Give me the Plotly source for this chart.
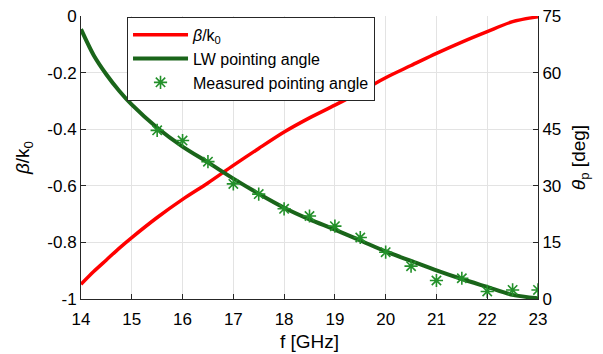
import plotly.graph_objects as go

# Data
freq = [14, 14.25, 14.5, 14.75, 15, 15.5, 16, 16.5, 17, 17.5, 18, 18.5, 19, 19.5, 20, 20.5, 21, 21.5, 22, 22.5, 23]
beta_k0 = [-0.948, -0.903, -0.862, -0.821, -0.783, -0.712, -0.648, -0.59, -0.528, -0.468, -0.41, -0.36, -0.315,
           -0.268, -0.218, -0.175, -0.132, -0.092, -0.055, -0.02, -0.003]
theta_lw = [71.5, 64.6, 59.5, 55.2, 51.5, 45.4, 40.4, 36.2, 31.9, 27.9, 24.2, 21.1, 18.4,
            15.5, 12.6, 10.1, 7.6, 5.3, 3.2, 1.1, 0.2]
freq_meas = [15.5, 16, 16.5, 17, 17.5, 18, 18.5, 19, 19.5, 20, 20.5, 21, 21.5, 22, 22.5, 23]
theta_meas = [44.7, 42.0, 36.4, 30.5, 27.8, 23.9, 22.0, 19.3, 16.3, 12.4, 8.7, 4.9, 5.5, 2.0, 2.4, 2.4]

x_ticks = list(range(14, 24))
y_left_ticks = [-1, -0.8, -0.6, -0.4, -0.2, 0]
y_left_labels = ["-1", "-0.8", "-0.6", "-0.4", "-0.2", "0"]
y_right_ticks = [0, 15, 30, 45, 60, 75]

FONT = "Liberation Sans, Arial, sans-serif"
AX = "#262626"
GRID = "#e3e3e3"

fig = go.Figure()
fig.add_trace(go.Scatter(x=freq, y=beta_k0, mode="lines", name="<i>β</i>/k<sub>0</sub>",
                         line=dict(color="#ff0000", width=3.5, shape="spline", smoothing=0.8), yaxis="y"))
fig.add_trace(go.Scatter(x=freq, y=theta_lw, mode="lines", name="LW pointing angle",
                         line=dict(color="#1a651a", width=4, shape="spline", smoothing=0.8), yaxis="y2"))
fig.add_trace(go.Scatter(x=freq_meas, y=theta_meas, mode="markers", name="Measured pointing angle",
                         marker=dict(symbol="asterisk-open", size=11, color="#23902a",
                                     line=dict(color="#23902a", width=1.6)), yaxis="y2"))

# page body has an 8px margin; figure is sized/offset so the plot area lands where it should
fig.update_layout(
    width=595, height=346,
    margin=dict(l=73, r=65, t=8, b=55, autoexpand=False),
    paper_bgcolor="white", plot_bgcolor="white",
    font=dict(family=FONT, size=16, color="#000000"),
    showlegend=True,
    legend=dict(x=0.1007, y=0.997, xanchor="left", yanchor="top",
                bgcolor="white", bordercolor=AX, borderwidth=1,
                font=dict(family=FONT, size=16, color="#000"),
                itemwidth=55, tracegroupgap=0),
    xaxis=dict(range=[14, 23], tickvals=x_ticks, showgrid=True, gridcolor=GRID, gridwidth=1,
               showline=True, linecolor=AX, linewidth=1, ticks="inside", ticklen=5,
               tickcolor=AX, zeroline=False, mirror=False, ticklabelstandoff=5,
               ticklabeloverflow="allow", automargin=False,
               tickfont=dict(size=17, color="#000"),
               title=dict(text="f [GHz]", font=dict(size=19, color="#000"), standoff=6)),
    yaxis=dict(range=[-1, 0], tickvals=y_left_ticks, ticktext=y_left_labels,
               showgrid=True, gridcolor=GRID, gridwidth=1,
               showline=True, linecolor=AX, linewidth=1, ticks="inside", ticklen=5,
               tickcolor=AX, zeroline=False, ticklabeloverflow="allow", automargin=False,
               tickfont=dict(size=17, color="#000"),
               title=dict(text="<i>β</i>/k<sub>0</sub>", font=dict(size=19, color="#000"), standoff=12)),
    yaxis2=dict(range=[0, 75], tickvals=y_right_ticks, overlaying="y", side="right",
                showgrid=False, showline=True, linecolor=AX, linewidth=1, ticks="inside",
                ticklen=5, tickcolor=AX, zeroline=False, ticklabeloverflow="allow", automargin=False,
                tickfont=dict(size=17, color="#000"),
                title=dict(text="<i>θ</i><sub>p</sub> [deg]", font=dict(size=19, color="#000"), standoff=11)),
)

fig.write_html("out.html")
